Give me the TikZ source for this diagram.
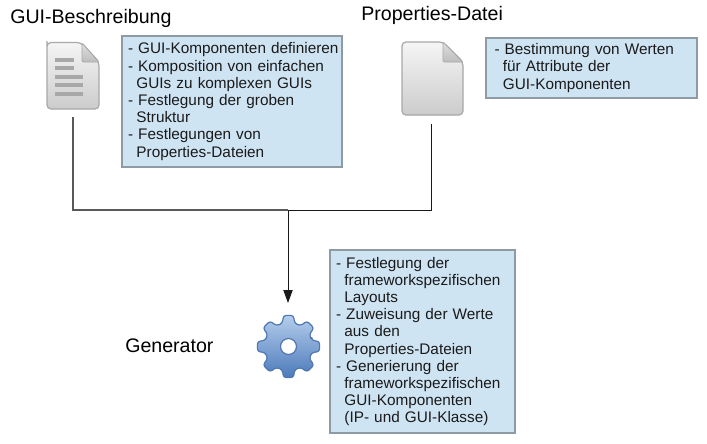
\documentclass[tikz,border=0pt]{standalone}
\usepackage{fontspec}
\setmainfont{Liberation Sans}
\usetikzlibrary{arrows.meta}
\definecolor{boxfill}{HTML}{CFE4F3}
\definecolor{boxline}{HTML}{8E9BA5}
\definecolor{docline}{HTML}{A8A8A8}
\definecolor{txt}{HTML}{1A1A1A}
\definecolor{gearline}{HTML}{4F77B0}
\definecolor{gearlight}{HTML}{B5CDEC}
\definecolor{geardark}{HTML}{4C7ABA}
\newcommand{\ind}{\hspace*{0.55em}}
\hfuzz=20pt
\tikzset{
  x=0.75pt, y=-0.75pt,
  infobox/.style={draw=boxline, line width=0.8pt, fill=boxfill, text=txt, align=left, inner xsep=4.5pt, inner ysep=0pt, outer sep=0pt,
    font=\fontsize{11.5pt}{12.9pt}\selectfont},
  titletext/.style={font=\fontsize{14.7pt}{17pt}\selectfont, text=black, inner sep=0pt, anchor=base west},
  anchorbox/.style={inner sep=0pt, outer sep=0pt},
  docbody/.style={draw=docline, line width=0.9pt, rounded corners=3pt, top color=white!96!black, bottom color=black!20},
  docfold/.style={draw=docline, line width=0.7pt, rounded corners=1pt, top color=black!12, bottom color=black!26},
  docmark/.style={draw=docline, line width=2.6pt},
  link/.style={line width=0.6pt, draw=black!90},
  linkleft/.style={line width=0.8pt, draw=black!65},
  gearshape/.style={draw=gearline, line width=0.9pt, top color=gearlight, bottom color=geardark, rounded corners=2pt, line join=round}
}
\begin{document}
\begin{tikzpicture}
\path[use as bounding box, fill=white] (0,0) rectangle (707,443);

% titles
\node[titletext] (t1) at (10,23) {GUI-Beschreibung};
\node[titletext] (t2) at (361,20) {Properties-Datei};
\node[titletext] (t3) at (125,352) {Generator};

% invisible anchors for the icons
\node[anchorbox, minimum width=39pt, minimum height=56.25pt] (doc1) at (73,79.5) {};
\node[anchorbox, minimum width=45pt, minimum height=61.5pt] (doc2) at (431.7,83) {};
\node[anchorbox, circle, minimum size=64.5pt] (gear) at (288,346) {};

% document 1
\draw[docbody] (47,45) -- (47,109) -- (99,109) -- (99,62) -- (81,42.5) -- (47,42.5) -- cycle;
\draw[docfold] (82,43) -- (82,62) -- (99,62) -- cycle;
\draw[docmark] (55,60) -- (74,60);
\draw[docmark] (55,68) -- (74,68);
\draw[docmark] (55,77) -- (83,77);
\draw[docmark] (55,85) -- (83,85);
\draw[docmark] (55,94) -- (83,94);

% document 2
\draw[docbody] (402,42) -- (402,115) -- (463,115) -- (463,62) -- (443,42) -- cycle;
\draw[docfold] (443,42) -- (443,62) -- (463,62) -- cycle;

% gear
\draw[gearshape] ({288.5+24*cos(-15)},{346.5+24*sin(-15)})
  \foreach \a in {0,45,...,315} {
    -- ({288.5+31.5*cos(\a-9)},{346.5+31.5*sin(\a-9)})
    -- ({288.5+31.5*cos(\a+9)},{346.5+31.5*sin(\a+9)})
    -- ({288.5+24*cos(\a+15)},{346.5+24*sin(\a+15)})
    -- ({288.5+24*cos(\a+30)},{346.5+24*sin(\a+30)})
  } -- cycle;
\draw[draw=gearline, line width=0.9pt, fill=white] (288.5,346.5) circle (8);

% info boxes
\node[infobox, minimum width=165pt, minimum height=98.25pt, text width=156pt] (b1) at (232,101.5) {%
\mbox{- GUI-Komponenten definieren}\\
- Komposition von einfachen\\
\ind GUIs zu komplexen GUIs\\
- Festlegung der groben\\
\ind Struktur\\
- Festlegungen von\\
\ind Properties-Dateien};
\node[infobox, minimum width=158.25pt, minimum height=45pt, text width=145.5pt] (b2) at (591.5,68) {%
- Bestimmung von Werten\\
\ind für Attribute der\\
\ind GUI-Komponenten};
\node[infobox, minimum width=138.75pt, minimum height=137.25pt, text width=129.75pt] (b3) at (422.5,341.5) {%
- Festlegung der\\
\ind frameworkspezifischen\\
\ind Layouts\\
- Zuweisung der Werte\\
\ind aus den\\
\ind Properties-Dateien\\
- Generierung der\\
\ind frameworkspezifischen\\
\ind GUI-Komponenten\\
\ind (IP- und GUI-Klasse)};

% connectors
\coordinate (j) at (288,210);
\draw[linkleft] (doc1.south) |- (j);
\draw[link] (j) -| (doc2.south);
\draw[link, -{Triangle[length=9.75pt,width=7pt]}] (j) -- (gear.north);
\end{tikzpicture}
\end{document}
